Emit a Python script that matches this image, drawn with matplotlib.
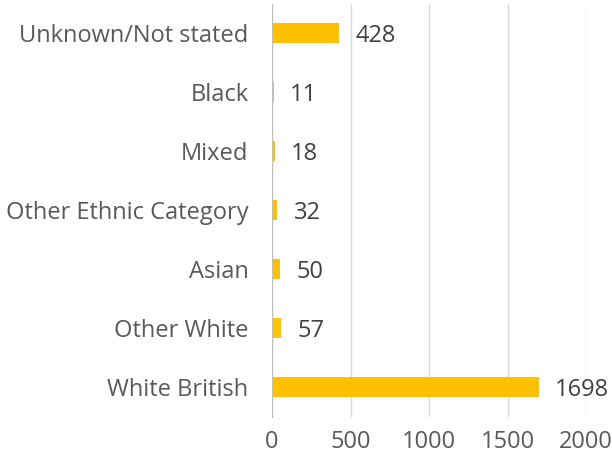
import matplotlib.pyplot as plt

categories = ["White British", "Other White", "Asian", "Other Ethnic Category",
              "Mixed", "Black", "Unknown/Not stated"]
values = [1698, 57, 50, 32, 18, 11, 428]
xticks = [0, 500, 1000, 1500, 2000]

plt.rcParams['font.family'] = ['Open Sans', 'DejaVu Sans']
text_col = '#595959'
fs = 17

fig = plt.figure(figsize=(6.12, 4.59), dpi=100)
ax = fig.add_axes([272 / 612, 1 - 416.5 / 459, (586 - 272) / 612, 413 / 459])

y = range(len(categories))
ax.barh(y, values, height=0.34, color='#FFC000', zorder=3)
for i, v in enumerate(values):
    ax.text(v + 105, i, str(v), va='center_baseline', ha='left', fontsize=fs, color='#404040')

ax.set_xlim(0, 2000)
ax.set_ylim(-0.5, len(categories) - 0.5)
ax.set_xticks(xticks)
ax.set_xticklabels([str(t) for t in xticks], fontsize=fs, color=text_col)
ax.set_yticks(list(y))
ax.set_yticklabels(categories, fontsize=fs, color=text_col)
ax.tick_params(axis='x', length=0, pad=10)
ax.tick_params(axis='y', length=0, pad=17)
ax.grid(axis='x', color='#D9D9D9', linewidth=1, zorder=0)
for s in ['top', 'right', 'bottom']:
    ax.spines[s].set_visible(False)
ax.spines['left'].set_color('#BFBFBF')
ax.spines['left'].set_zorder(4)

fig.savefig('out.png', dpi=100)
